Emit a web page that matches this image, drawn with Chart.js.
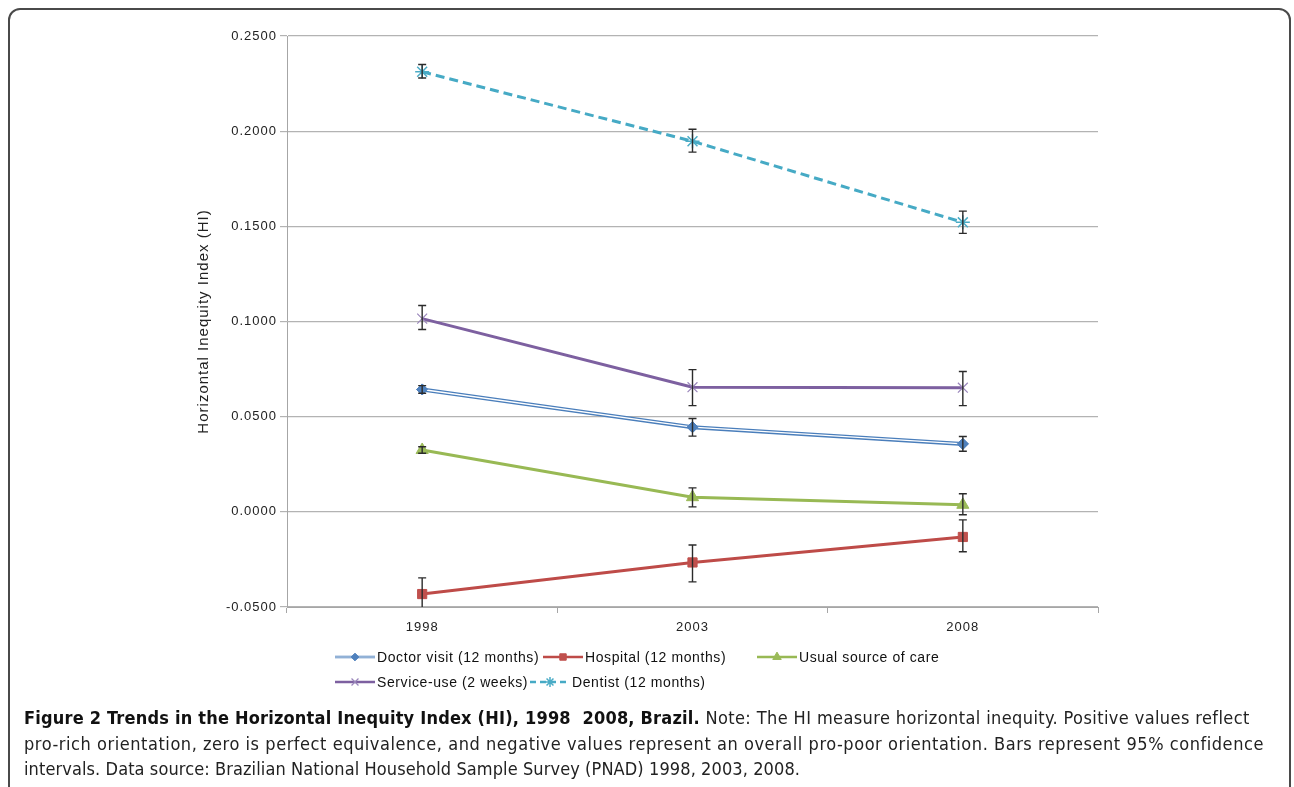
<!DOCTYPE html>
<html>
<head>
<meta charset="utf-8">
<script src="https://cdn.jsdelivr.net/npm/chart.js@4.4.1/dist/chart.umd.min.js"></script>
<style>
body{margin:0;background:#fff;width:1294px;height:787px;overflow:hidden;position:relative;font-family:"Liberation Sans",Arial,sans-serif;}
#frame{position:absolute;left:8px;top:8px;width:1279px;height:820px;border:2px solid #4a4a4a;border-radius:12px;}
#wrap{position:absolute;left:0;top:0;width:1294px;height:787px;}
.leg{position:absolute;font-size:14px;letter-spacing:0.6px;color:#111;display:flex;align-items:center;white-space:nowrap;height:16px;}
.leg canvas{margin-right:2px;}
#caption{position:absolute;left:24px;top:705px;width:1262px;font-family:"Liberation Sans Narrow","DejaVu Sans Condensed",sans-serif;font-size:18px;letter-spacing:0.4px;line-height:25.5px;color:#222;white-space:nowrap;}
#caption b{color:#111;letter-spacing:0.2px;}
#caption .l2{letter-spacing:0.55px;}
#caption .l3{letter-spacing:0.1px;}
</style>
</head>
<body>
<div id="frame"></div>
<div id="wrap"><canvas id="hiChart" width="1294" height="787"></canvas></div>
<div id="legend"></div>
<div id="caption"><b>Figure 2 Trends in the Horizontal Inequity Index (HI), 1998&nbsp;&nbsp;2008, Brazil.</b> Note: The HI measure horizontal inequity. Positive values reflect<br><span class="l2">pro-rich orientation, zero is perfect equivalence, and negative values represent an overall pro-poor orientation. Bars represent 95% confidence</span><br><span class="l3">intervals. Data source: Brazilian National Household Sample Survey (PNAD) 1998, 2003, 2008.</span></div>
<script>
const years = ["1998", "2003", "2008"];

const doctorHI = [0.0643, 0.0445, 0.0357];
const doctorLow = [0.0623, 0.0398, 0.0318];
const doctorHigh = [0.0663, 0.0490, 0.0396];

const hospitalHI = [-0.0432, -0.0266, -0.0132];
const hospitalLow = [-0.0520, -0.0368, -0.0210];
const hospitalHigh = [-0.0347, -0.0174, -0.0042];

const usualHI = [0.0325, 0.0077, 0.0037];
const usualLow = [0.0308, 0.0026, -0.0015];
const usualHigh = [0.0342, 0.0126, 0.0095];

const serviceHI = [0.1015, 0.0655, 0.0652];
const serviceLow = [0.0958, 0.0558, 0.0558];
const serviceHigh = [0.1084, 0.0747, 0.0737];

const dentistHI = [0.2312, 0.1947, 0.1521];
const dentistLow = [0.2279, 0.1890, 0.1463];
const dentistHigh = [0.2350, 0.2010, 0.1580];

const yTicks = [-0.05, 0, 0.05, 0.1, 0.15, 0.2, 0.25];


// the scanned figure has slightly stretched axis text
const wideText = {
    id: "wideText",
    beforeDraw(chart){ chart.ctx.letterSpacing = "1px"; }
};

// error bars drawn on top of the series, clipped to the plot
const errorBars = {
    id: "errorBars",
    afterDatasetsDraw(chart){
        const ctx = chart.ctx;
        const y = chart.scales.y;
        const area = chart.chartArea;
        ctx.save();
        ctx.beginPath();
        ctx.rect(area.left, area.top, area.right - area.left, area.bottom - area.top);
        ctx.clip();
        ctx.strokeStyle = "#2b2b2b";
        ctx.lineWidth = 1.4;
        chart.data.datasets.forEach((ds, i) => {
            if(!ds.errLow) return;
            chart.getDatasetMeta(i).data.forEach((pt, j) => {
                const x = pt.x;
                const y1 = y.getPixelForValue(ds.errLow[j]);
                const y2 = y.getPixelForValue(ds.errHigh[j]);
                ctx.beginPath();
                ctx.moveTo(x, y1); ctx.lineTo(x, y2);
                ctx.moveTo(x - 4, y1); ctx.lineTo(x + 4, y1);
                ctx.moveTo(x - 4, y2); ctx.lineTo(x + 4, y2);
                ctx.stroke();
            });
        });
        ctx.restore();
    }
};

// excel style double line for the doctor series
const innerLine = {
    id: "innerLine",
    afterDatasetDraw(chart, args){
        const ds = chart.data.datasets[args.index];
        if(!ds.innerLine) return;
        const ctx = chart.ctx;
        const pts = args.meta.data;
        ctx.save();
        ctx.strokeStyle = "#ffffff";
        ctx.lineWidth = 1.4;
        ctx.beginPath();
        pts.forEach((p, k) => k ? ctx.lineTo(p.x, p.y) : ctx.moveTo(p.x, p.y));
        ctx.stroke();
        ctx.restore();
        pts.forEach(p => p.draw(ctx, chart.chartArea));
    }
};


const datasets = [
    {
        label: "Doctor visit (12 months)",
        data: doctorHI, errLow: doctorLow, errHigh: doctorHigh,
        borderColor: "#4a7ebb", backgroundColor: "#4f81bd",
        borderWidth: 4, pointStyle: "rectRot", pointRadius: 5.5,
        pointBorderWidth: 1, pointBorderColor: "#4f81bd", innerLine: true
    },
    {
        label: "Hospital (12 months)",
        data: hospitalHI, errLow: hospitalLow, errHigh: hospitalHigh,
        borderColor: "#be4b48", backgroundColor: "#c0504d",
        borderWidth: 3, pointStyle: "rect", pointRadius: 6.5,
        pointBorderWidth: 1, pointBorderColor: "#c0504d"
    },
    {
        label: "Usual source of care",
        data: usualHI, errLow: usualLow, errHigh: usualHigh,
        borderColor: "#98b954", backgroundColor: "#9bbb59",
        borderWidth: 3, pointStyle: "triangle", pointRadius: 7,
        pointBorderWidth: 1, pointBorderColor: "#9bbb59"
    },
    {
        label: "Service-use (2 weeks)",
        data: serviceHI, errLow: serviceLow, errHigh: serviceHigh,
        borderColor: "#7d60a0", backgroundColor: "#8064a2",
        borderWidth: 3, pointStyle: "crossRot", pointRadius: 7,
        pointBorderWidth: 1.2, pointBorderColor: "#9a86bb"
    },
    {
        label: "Dentist (12 months)",
        data: dentistHI, errLow: dentistLow, errHigh: dentistHigh,
        borderColor: "#46aac5", backgroundColor: "#4bacc6",
        borderWidth: 3, borderDash: [9, 5], pointStyle: "star", pointRadius: 7,
        pointBorderWidth: 1.5, pointBorderColor: "#4bacc6"
    }
];

const axisFont = { family: "'Liberation Sans', Arial", size: 13 };

const chart = new Chart(document.getElementById("hiChart").getContext("2d"), {
    type: "line",
    data: { labels: years, datasets: datasets },
    options: {
        responsive: false,
        animation: false,
        events: [],
        layout: { padding: { left: 190, right: 196, top: 36, bottom: 147 } },
        elements: { line: { tension: 0 } },
        plugins: {
            legend: { display: false },
            tooltip: { enabled: false }
        },
        scales: {
            x: {
                offset: true,
                grid: { display: true, drawOnChartArea: false, offset: true, tickLength: 6, color: "#a6a6a6" },
                border: { color: "#a6a6a6" },
                ticks: { color: "#222", padding: 7, font: axisFont },
                afterFit(scale){ scale.height = 33; }
            },
            y: {
                min: -0.05,
                max: 0.25,
                afterBuildTicks(scale){ scale.ticks = yTicks.map(v => ({ value: v })); },
                grid: { color: "#b3b3b3", lineWidth: 1.2, tickLength: 7 },
                border: { color: "#a6a6a6" },
                ticks: {
                    color: "#222", padding: 3, font: axisFont,
                    callback: v => Number(v).toFixed(4)
                },
                title: {
                    display: true, text: "Horizontal Inequity Index (HI)", color: "#222",
                    padding: { top: 5, bottom: 0 },
                    font: { family: "'Liberation Sans', Arial", size: 15 }
                },
                afterFit(scale){ scale.width = 97; }
            }
        }
    },
    plugins: [wideText, innerLine, errorBars]
});


// legend built from the chart's datasets
const legendSpots = [[335, 657], [543, 657], [757, 657], [335, 682], [530, 682]];
const legendBox = document.getElementById("legend");
chart.data.datasets.forEach((ds, i) => {
    const item = document.createElement("div");
    item.className = "leg";
    item.style.left = legendSpots[i][0] + "px";
    item.style.top = (legendSpots[i][1] - 8) + "px";
    const c = document.createElement("canvas");
    c.width = 40; c.height = 16;
    const g = c.getContext("2d");
    g.strokeStyle = ds.borderColor;
    g.lineWidth = 2.6;
    if(ds.borderDash) g.setLineDash([6, 4]);
    g.beginPath(); g.moveTo(0, 8); g.lineTo(40, 8); g.stroke();
    g.setLineDash([]);
    if(ds.innerLine){
        g.strokeStyle = "#fff"; g.lineWidth = 0.8;
        g.beginPath(); g.moveTo(0, 8); g.lineTo(40, 8); g.stroke();
    }
    g.fillStyle = ds.backgroundColor;
    g.strokeStyle = ds.pointBorderColor;
    g.lineWidth = ds.pointBorderWidth;
    Chart.helpers.drawPoint(g, { pointStyle: ds.pointStyle, radius: ds.pointRadius * 0.7, rotation: 0, borderWidth: ds.pointBorderWidth }, 20, 8);
    item.appendChild(c);
    const t = document.createElement("span");
    t.textContent = ds.label;
    item.appendChild(t);
    legendBox.appendChild(item);
});
</script>
</body>
</html>
